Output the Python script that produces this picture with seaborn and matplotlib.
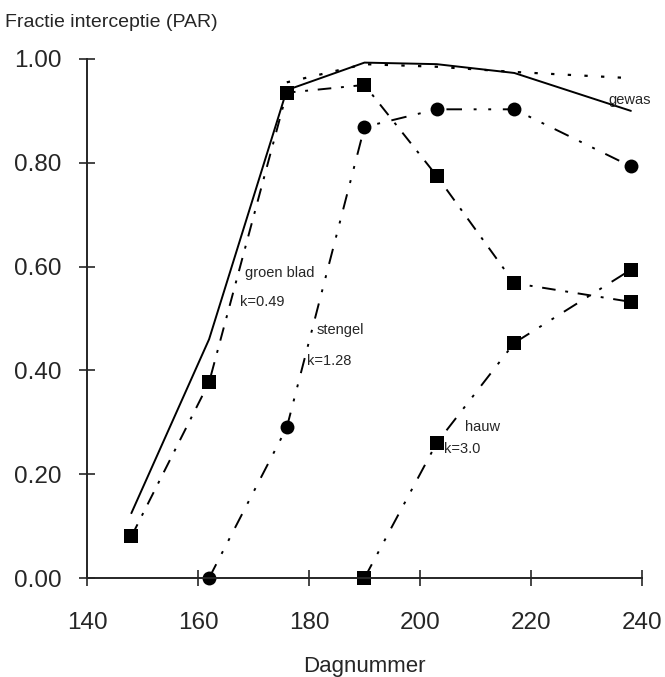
import matplotlib
matplotlib.use("Agg")
import matplotlib.pyplot as plt
import seaborn as sns
import pandas as pd

# ---- data ----
days_blad = [148, 162, 176, 190, 203, 217, 238]
groen_blad = [0.08, 0.377, 0.935, 0.95, 0.775, 0.568, 0.532]

days_stengel = [162, 176, 190, 203, 217, 238]
stengel = [0.0, 0.29, 0.869, 0.903, 0.903, 0.793]

days_hauw = [190, 203, 217, 238]
hauw = [0.0, 0.26, 0.453, 0.594]

days_gewas = [148, 162, 176, 190, 203, 217, 238]
gewas = [0.125, 0.46, 0.94, 0.993, 0.99, 0.973, 0.90]

days_gewas_obs = [176, 190, 203, 217, 238]
gewas_obs = [0.955, 0.99, 0.985, 0.975, 0.963]

x_ticks = [140, 160, 180, 200, 220, 240]
y_ticks = [0.0, 0.2, 0.4, 0.6, 0.8, 1.0]

sns.set_style("ticks")
plt.rcParams['font.family'] = ['Liberation Sans', 'DejaVu Sans']

fig = plt.figure(figsize=(6.65, 6.77), dpi=100)
ax = fig.add_axes([0.1308, 0.1462, 0.8346, 0.7667])

df_g = pd.DataFrame({"dag": days_gewas, "f": gewas})
df_go = pd.DataFrame({"dag": days_gewas_obs, "f": gewas_obs})
df_b = pd.DataFrame({"dag": days_blad, "f": groen_blad})
df_s = pd.DataFrame({"dag": days_stengel, "f": stengel})
df_h = pd.DataFrame({"dag": days_hauw, "f": hauw})

sns.lineplot(data=df_g, x="dag", y="f", ax=ax, color="black", lw=1.4)
sns.lineplot(data=df_go, x="dag", y="f", ax=ax, color="black", lw=1.6)
ax.lines[-1].set_dashes([1.5, 6])
sns.lineplot(data=df_b, x="dag", y="f", ax=ax, color="black", lw=1.4,
             marker="s", markersize=10, markeredgewidth=0, clip_on=False)
ax.lines[-1].set_dashes([7, 5, 1.5, 5])
sns.lineplot(data=df_s, x="dag", y="f", ax=ax, color="black", lw=1.4,
             marker="o", markersize=10, markeredgewidth=0, clip_on=False)
ax.lines[-1].set_dashes([8, 6, 1.5, 6, 1.5, 6])
sns.lineplot(data=df_h, x="dag", y="f", ax=ax, color="black", lw=1.4,
             marker="s", markersize=10, markeredgewidth=0, clip_on=False)
ax.lines[-1].set_dashes([8, 6, 1.5, 6, 1.5, 6])

ax.set_xlim(140, 240)
ax.set_ylim(0, 1.0)
ax.set_xticks(x_ticks)
ax.set_yticks(y_ticks)
ax.set_xticklabels([str(t) for t in x_ticks], fontsize=17.5)
ax.set_yticklabels([f"{t:.2f}" for t in y_ticks], fontsize=17.5)
ax.tick_params(direction="inout", length=11, width=1.2)
ax.tick_params(axis="x", pad=19)
ax.tick_params(axis="y", pad=13)
sns.despine(ax=ax)
for s in ["left", "bottom"]:
    ax.spines[s].set_linewidth(1.4)
ax.set_xlabel("Dagnummer", fontsize=16, labelpad=16)
ax.set_ylabel("")
fig.text(0.008, 0.967, "Fractie interceptie (PAR)", fontsize=14, ha="left", va="center")

lab = dict(fontsize=10.5, ha="left", va="center")
ax.text(233.9, 0.921, "gewas", **lab)
ax.text(168.5, 0.588, "groen blad", **lab)
ax.text(167.6, 0.532, "k=0.49", **lab)
ax.text(181.4, 0.478, "stengel", **lab)
ax.text(179.6, 0.418, "k=1.28", **lab)
ax.text(208.1, 0.291, "hauw", **lab)
ax.text(204.4, 0.249, "k=3.0", **lab)

fig.savefig("out.png", dpi=100)
